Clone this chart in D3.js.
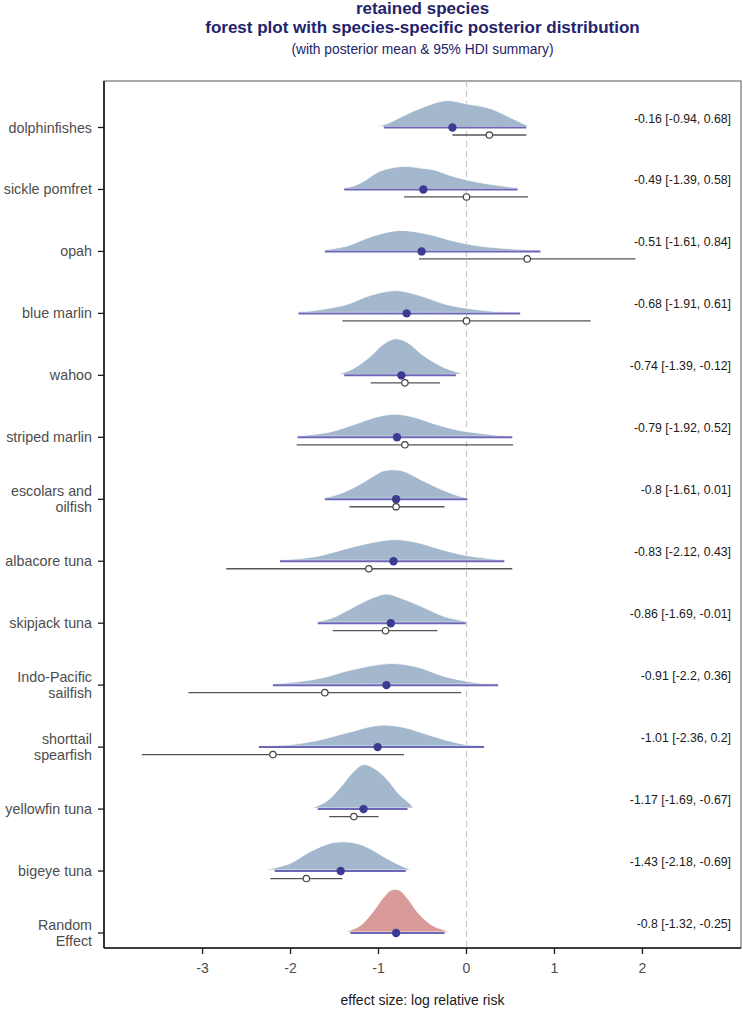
<!DOCTYPE html>
<html>
<head>
<meta charset="utf-8">
<script src="https://cdn.jsdelivr.net/npm/d3@7"></script>
<style>
  html, body { margin: 0; padding: 0; background: #fff; }
  svg { display: block; font-family: "Liberation Sans", Arial, sans-serif; }
</style>
</head>
<body>
<svg id="chart" width="743" height="1032"></svg>
<script>
// ---------------- data ----------------
const species = ["dolphinfishes", "sickle pomfret", "opah", "blue marlin", "wahoo",
  "striped marlin", "escolars and\noilfish", "albacore tuna", "skipjack tuna",
  "Indo-Pacific\nsailfish", "shorttail\nspearfish", "yellowfin tuna", "bigeye tuna",
  "Random\nEffect"];

const postMean = [-0.16, -0.49, -0.51, -0.68, -0.74, -0.79, -0.8, -0.83, -0.86, -0.91, -1.01, -1.17, -1.43, -0.8];
const hdiLow   = [-0.94, -1.39, -1.61, -1.91, -1.39, -1.92, -1.61, -2.12, -1.69, -2.2, -2.36, -1.69, -2.18, -1.32];
const hdiHigh  = [0.68, 0.58, 0.84, 0.61, -0.12, 0.52, 0.01, 0.43, -0.01, 0.36, 0.2, -0.67, -0.69, -0.25];

// species-level observed estimates (open circles) with their intervals
const obsEst  = [0.26, 0.00, 0.69, 0.00, -0.70, -0.70, -0.80, -1.11, -0.92, -1.61, -2.20, -1.28, -1.82];
const obsLow  = [-0.16, -0.71, -0.54, -1.41, -1.09, -1.93, -1.33, -2.73, -1.52, -3.16, -3.69, -1.56, -2.23];
const obsHigh = [0.68, 0.70, 1.92, 1.41, -0.30, 0.53, -0.25, 0.52, -0.33, -0.06, -0.71, -1.00, -1.41];

// posterior densities: [effect size, density]
const posteriorDensity = [
  [[-1.00,0.02],[-0.90,0.10],[-0.80,0.24],[-0.53,0.61],[-0.23,0.88],[0.00,0.77],[0.28,0.60],[0.50,0.30],[0.63,0.12],[0.70,0.02]],
  [[-1.40,0.02],[-1.30,0.07],[-1.17,0.24],[-0.99,0.58],[-0.72,0.75],[-0.49,0.68],[-0.38,0.64],[-0.15,0.41],[0.15,0.20],[0.45,0.07],[0.59,0.02]],
  [[-1.61,0.02],[-1.36,0.15],[-1.06,0.49],[-0.76,0.68],[-0.42,0.54],[-0.15,0.32],[0.15,0.15],[0.53,0.05],[0.84,0.01]],
  [[-1.91,0.01],[-1.74,0.06],[-1.36,0.27],[-1.10,0.57],[-0.80,0.74],[-0.53,0.57],[-0.23,0.27],[0.08,0.11],[0.38,0.02],[0.55,0.01]],
  [[-1.44,0.02],[-1.29,0.19],[-1.10,0.59],[-0.95,1.01],[-0.81,1.21],[-0.68,1.10],[-0.49,0.64],[-0.27,0.25],[-0.11,0.08],[-0.05,0.02]],
  [[-1.93,0.01],[-1.55,0.15],[-1.25,0.43],[-1.02,0.66],[-0.81,0.75],[-0.61,0.66],[-0.34,0.40],[-0.08,0.20],[0.19,0.09],[0.40,0.02],[0.52,0.01]],
  [[-1.62,0.01],[-1.44,0.15],[-1.21,0.48],[-1.02,0.82],[-0.93,0.94],[-0.74,0.94],[-0.53,0.65],[-0.30,0.32],[-0.08,0.07],[0.00,0.02]],
  [[-2.11,0.01],[-1.72,0.12],[-1.50,0.28],[-1.27,0.47],[-0.85,0.70],[-0.59,0.62],[-0.28,0.36],[-0.02,0.17],[0.25,0.06],[0.43,0.01]],
  [[-1.70,0.02],[-1.53,0.14],[-1.27,0.53],[-1.08,0.81],[-0.91,0.96],[-0.74,0.81],[-0.51,0.53],[-0.25,0.19],[-0.06,0.06],[-0.01,0.02]],
  [[-2.20,0.01],[-1.93,0.08],[-1.63,0.22],[-1.33,0.47],[-0.87,0.70],[-0.57,0.59],[-0.27,0.28],[-0.04,0.12],[0.19,0.02],[0.36,0.01]],
  [[-2.36,0.01],[-2.01,0.05],[-1.70,0.19],[-1.36,0.45],[-0.99,0.71],[-0.72,0.64],[-0.42,0.37],[-0.11,0.11],[0.11,0.02],[0.20,0.01]],
  [[-1.74,0.02],[-1.59,0.23],[-1.44,0.68],[-1.29,1.22],[-1.17,1.48],[-1.05,1.35],[-0.91,1.00],[-0.76,0.45],[-0.64,0.14],[-0.61,0.03]],
  [[-2.26,0.02],[-2.00,0.23],[-1.78,0.62],[-1.52,0.93],[-1.29,0.93],[-1.14,0.79],[-0.91,0.40],[-0.76,0.17],[-0.64,0.02]],
  [[-1.36,0.02],[-1.21,0.21],[-1.06,0.70],[-0.95,1.15],[-0.85,1.43],[-0.76,1.42],[-0.66,1.10],[-0.53,0.58],[-0.38,0.21],[-0.23,0.04],[-0.21,0.01]]
];

const xTicks = [-3, -2, -1, 0, 1, 2];
const titleLines = ["retained species", "forest plot with species-specific posterior distribution"];
const subtitle = "(with posterior mean & 95% HDI summary)";
const xTitle = "effect size: log relative risk";

// ---------------- layout ----------------
const svg = d3.select("#chart");
const panel = { left: 104, right: 741, top: 81, bottom: 948 };
const cx = (panel.left + panel.right) / 2;

const x = d3.scaleLinear().domain([-4.12, 3.12]).range([panel.left, panel.right]);
const y = d3.scalePoint().domain(d3.range(species.length)).range([127.5, 933]);
const step = y.step();
const dens = d3.scaleLinear().domain([0, 1]).range([0, step * 0.475]);

const colBlue = "#a3b8cc", colRed = "#d99a9a", colHdi = "#6c66b6", colDot = "#3b3b92";

// titles
svg.append("text").attr("x", cx).attr("y", 14).attr("text-anchor", "middle")
  .attr("font-size", 17).attr("font-weight", "bold").attr("fill", "#23236b").text(titleLines[0]);
svg.append("text").attr("x", cx).attr("y", 33).attr("text-anchor", "middle")
  .attr("font-size", 17).attr("font-weight", "bold").attr("fill", "#23236b").text(titleLines[1]);
svg.append("text").attr("x", cx).attr("y", 54).attr("text-anchor", "middle")
  .attr("font-size", 13.8).attr("fill", "#23236b").text(subtitle);

// panel border
svg.append("rect").attr("x", panel.left).attr("y", panel.top)
  .attr("width", panel.right - panel.left).attr("height", panel.bottom - panel.top)
  .attr("fill", "none").attr("stroke", "#555").attr("stroke-width", 1);

// zero reference line
svg.append("line").attr("x1", x(0)).attr("x2", x(0))
  .attr("y1", panel.top).attr("y2", panel.bottom)
  .attr("stroke", "#c8c8c8").attr("stroke-width", 1.2).attr("stroke-dasharray", "6,4");

const area = d3.area().curve(d3.curveCatmullRom.alpha(0.5))
  .x(d => x(d[0]));

const rows = svg.append("g");
species.forEach((s, i) => {
  const yy = y(i);
  const g = rows.append("g");
  const isRE = i === species.length - 1;
  g.append("path")
    .datum(posteriorDensity[i])
    .attr("d", area.y0(yy - 1).y1(d => yy - 1 - dens(d[1])))
    .attr("fill", isRE ? colRed : colBlue)
    .attr("stroke", "white").attr("stroke-width", 0.8);
  g.append("line").attr("x1", x(hdiLow[i])).attr("x2", x(hdiHigh[i]))
    .attr("y1", yy).attr("y2", yy).attr("stroke", colHdi).attr("stroke-width", 2);
  g.append("circle").attr("cx", x(postMean[i])).attr("cy", yy).attr("r", 4.2).attr("fill", colDot);
  if (i < obsEst.length) {
    const oy = yy + 7.5;
    g.append("line").attr("x1", x(obsLow[i])).attr("x2", x(obsHigh[i]))
      .attr("y1", oy).attr("y2", oy).attr("stroke", "#555").attr("stroke-width", 1.3);
    g.append("circle").attr("cx", x(obsEst[i])).attr("cy", oy).attr("r", 3.2)
      .attr("fill", "white").attr("stroke", "#444").attr("stroke-width", 1.2);
  }
  // summary label
  g.append("text").attr("x", 731).attr("y", yy - 5).attr("text-anchor", "end")
    .attr("font-size", 12.3).attr("fill", "#1a1a1a")
    .text(`${postMean[i]} [${hdiLow[i]}, ${hdiHigh[i]}]`);
});

// y axis
const yAxis = svg.append("g");
yAxis.append("line").attr("x1", panel.left).attr("x2", panel.left)
  .attr("y1", panel.top).attr("y2", panel.bottom).attr("stroke", "#1a1a1a").attr("stroke-width", 1.6);
species.forEach((s, i) => {
  const yy = y(i);
  yAxis.append("line").attr("x1", panel.left - 6).attr("x2", panel.left)
    .attr("y1", yy).attr("y2", yy).attr("stroke", "#1a1a1a").attr("stroke-width", 1.3);
  const lines = s.split("\n");
  const lh = 16;
  const t = yAxis.append("text").attr("text-anchor", "end").attr("font-size", 14.3).attr("fill", "#4d4d4d");
  lines.forEach((ln, k) => {
    t.append("tspan").attr("x", 92)
      .attr("y", yy + 5 + (k - (lines.length - 1) / 2) * lh).text(ln);
  });
});

// x axis
const xAxis = svg.append("g");
xAxis.append("line").attr("x1", panel.left).attr("x2", panel.right)
  .attr("y1", panel.bottom).attr("y2", panel.bottom).attr("stroke", "#1a1a1a").attr("stroke-width", 1.6);
xTicks.forEach(v => {
  xAxis.append("line").attr("x1", x(v)).attr("x2", x(v))
    .attr("y1", panel.bottom).attr("y2", panel.bottom + 6).attr("stroke", "#1a1a1a").attr("stroke-width", 1.3);
  xAxis.append("text").attr("x", x(v)).attr("y", panel.bottom + 25).attr("text-anchor", "middle")
    .attr("font-size", 14).attr("fill", "#4d4d4d").text(v);
});
svg.append("text").attr("x", cx).attr("y", 1005).attr("text-anchor", "middle")
  .attr("font-size", 14).attr("fill", "#1a1a1a").text(xTitle);
</script>
</body>
</html>
